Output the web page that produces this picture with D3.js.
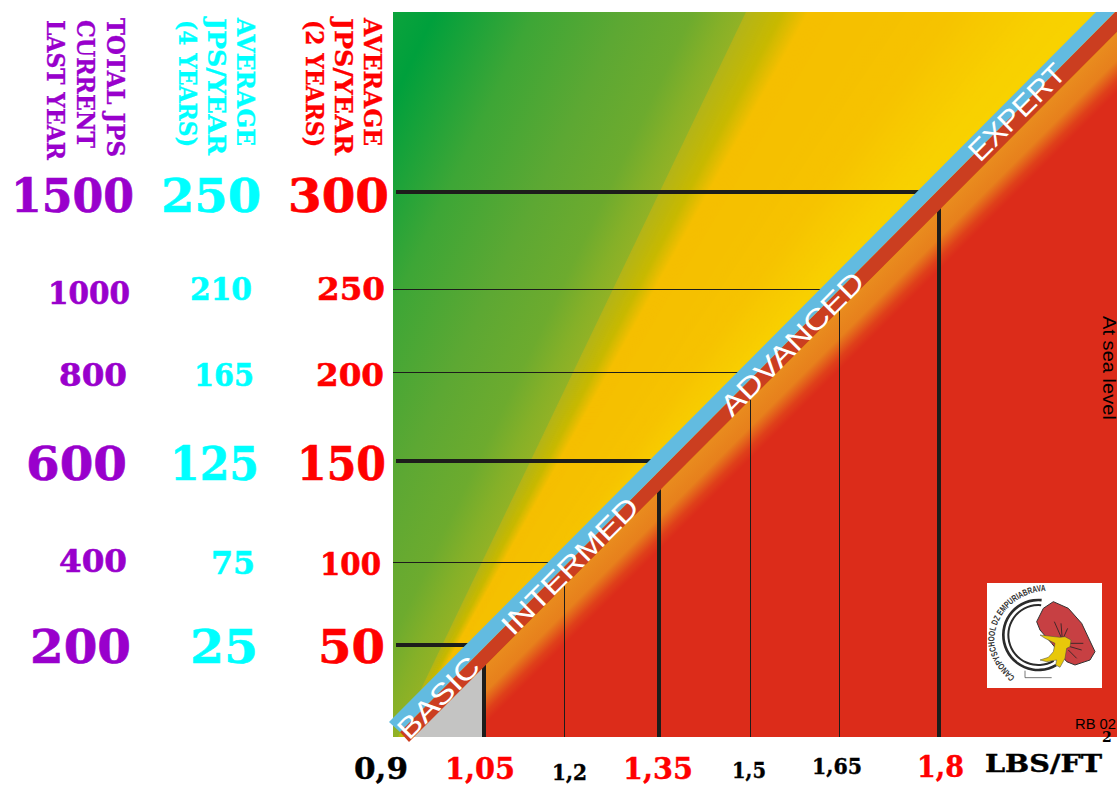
<!DOCTYPE html>
<html>
<head>
<meta charset="utf-8">
<script src="https://cdnjs.cloudflare.com/ajax/libs/d3/7.8.5/d3.min.js"></script>
<style>
  html, body { margin: 0; padding: 0; background: #fff; }
  svg { display: block; }
</style>
</head>
<body>
<div id="chart"></div>
<script>
// values
const jumps2y = [50, 100, 150, 200, 250, 300];
const jumps4y = [25, 75, 125, 165, 210, 250];
const totalLastYear = [200, 400, 600, 800, 1000, 1500];
const majorJumps = [50, 150, 300];
const lbsTicks = [0.9, 1.05, 1.2, 1.35, 1.5, 1.65, 1.8];
const majorLbs = [1.05, 1.35, 1.8];
const levels = ["BASIC", "INTERMED", "ADVANCED", "EXPERT"];
const headerPurple = ["TOTAL JPS", "CURRENT", "LAST YEAR"];
const headerCyan = ["AVERAGE", "JPS/YEAR", "(4 YEARS)"];
const headerRed = ["AVERAGE", "JPS/YEAR", "(2 YEARS)"];

// yellow side of the background: angle in degrees from the horizontal
const fanAngles = [70, 64.35, 62.3, 60.9, 58, 54, 50, 46, 30];
const fanColors = ["#b2b41a", "#b2b41a", "#c8b900", "#f5bf00", "#f5c000", "#f6c300", "#f8d000", "#f8d500", "#f8d500"];
// green side: share of the way from the top left corner to the edge of the yellow
const greenStops = [0, 0.12, 0.4, 0.66, 0.85, 0.94, 1];
const greenColors = ["#0ca33c", "#00a03c", "#3da636", "#5da833", "#6dab2e", "#85b028", "#92b225"];
// below the band, orange into red
const redStops = [0, 0.45, 0.8, 1];
const redColors = ["#e98b1e", "#e7801c", "#df3f1a", "#dc2c1a"];

const width = 1117, height = 785;
const plot = { left: 393, right: 1117, top: 12, bottom: 737 };

// axes are not quite even in the original, so the scales are piecewise
const x = d3.scaleLinear().domain(lbsTicks).range([393, 484, 564, 659, 750, 839, 939]);
const y = d3.scaleLinear().domain([0, ...jumps2y]).range([737, 645, 562, 461, 372, 289, 192]);

const color = d3.scaleLinear().domain(fanAngles).range(fanColors).interpolate(d3.interpolateRgb);

// the diagonal band
const blueEdgeX = py => 1096 - (py - 12) * 707 / 710;
const brownEdgeY = px => 742 - (px - 409) * 710 / 708;

const svg = d3.select("#chart").append("svg")
  .attr("width", width)
  .attr("height", height)
  .style("font-family", "'DejaVu Serif', serif");

const defs = svg.append("defs");
defs.append("clipPath").attr("id", "plot-clip").append("rect")
  .attr("x", plot.left).attr("y", plot.top)
  .attr("width", plot.right - plot.left).attr("height", plot.bottom - plot.top);

function addGradient(id, from, to, stops, colors) {
  const grad = defs.append("linearGradient").attr("id", id)
    .attr("gradientUnits", "userSpaceOnUse")
    .attr("x1", from[0]).attr("y1", from[1]).attr("x2", to[0]).attr("y2", to[1]);
  stops.forEach((s, i) => grad.append("stop").attr("offset", s).attr("stop-color", colors[i]));
}
addGradient("orange-red", [414, 737], [443, 766], redStops, redColors);
addGradient("green", [393, 12], [680, 150], greenStops, greenColors);

// Fan behind the band, painted upwards so no seams show
const origin = [343, 851];
const fan = svg.append("g").attr("clip-path", "url(#plot-clip)");
fan.selectAll("path")
  .data(d3.range(30, 70, 0.1))
  .join("path")
  .attr("d", a => {
    const r = 1400, a0 = a * Math.PI / 180, a1 = 80 * Math.PI / 180;
    return `M${origin}L${origin[0] + r * Math.cos(a0)},${origin[1] - r * Math.sin(a0)}` +
      `L${origin[0] + r * Math.cos(a1)},${origin[1] - r * Math.sin(a1)}Z`;
  })
  .attr("fill", a => color(a));

svg.append("polygon")
  .attr("points", `${plot.left},${plot.top} 746,${plot.top} 398,${plot.bottom} ${plot.left},${plot.bottom}`)
  .attr("fill", "url(#green)");

// Below the band
const below = svg.append("g");
below.append("polygon")
  .attr("points", `414,737 1117,32 1117,737`)
  .attr("fill", "url(#orange-red)");
below.append("polygon")
  .attr("points", `405,737 ${x(1.05)},${brownEdgeY(x(1.05))} ${x(1.05)},737`)
  .attr("fill", "#c4c4c3");

// Grid lines
const ink = "#1d1d1b";
svg.append("g").selectAll("line")
  .data(jumps2y)
  .join("line")
  .attr("x1", d => majorJumps.includes(d) ? 396 : plot.left)
  .attr("x2", d => blueEdgeX(y(d)) + 3)
  .attr("y1", d => y(d))
  .attr("y2", d => y(d))
  .attr("stroke", ink)
  .attr("shape-rendering", "crispEdges")
  .attr("stroke-width", d => majorJumps.includes(d) ? 4 : 1);

svg.append("g").selectAll("line")
  .data(lbsTicks.slice(1))
  .join("line")
  .attr("x1", d => x(d))
  .attr("x2", d => x(d))
  .attr("y1", d => brownEdgeY(x(d)) - 3)
  .attr("y2", plot.bottom)
  .attr("stroke", ink)
  .attr("shape-rendering", "crispEdges")
  .attr("stroke-width", d => majorLbs.includes(d) ? 4 : 1);

// Band
svg.append("polygon").attr("points", "400,732 409,742 1117,32 1117,12 1115,12").attr("fill", "#cb3e20");
svg.append("polygon").attr("points", "389,722 400,732 1115,12 1096,12").attr("fill", "#62bbe0");

// level names along the band
const levelPlace = [
  { x: 409, y: 741, len: 103 },
  { x: 513, y: 637, len: 181 },
  { x: 732, y: 418, len: 190 },
  { x: 980, y: 163, len: 124 }
];
svg.append("g").selectAll("text")
  .data(levels)
  .join("text")
  .attr("transform", (d, i) => `translate(${levelPlace[i].x},${levelPlace[i].y}) rotate(-45)`)
  .attr("textLength", (d, i) => levelPlace[i].len)
  .attr("lengthAdjust", "spacingAndGlyphs")
  .style("font-family", "'Liberation Sans', sans-serif")
  .style("font-size", "29px")
  .attr("fill", "#fff")
  .text(d => d);

// Left columns of numbers
const columns = [
  { values: totalLastYear, fill: "#9900cc", right: [131, 127, 127, 127, 130, 134], w: [101, 68, 101, 68, 82, 123], dy: [1, -2, 2, 2, 3, 3] },
  { values: jumps4y, fill: "#00ffff", right: [258, 255, 259, 254, 252, 261], w: [68, 44, 89, 60, 62, 100], dy: [1, 0, 2, 2, -1, 3] },
  { values: jumps2y, fill: "#ff0000", right: [385, 381, 386, 384, 385, 389], w: [67, 61, 89, 68, 68, 101], dy: [1, 1, 2, 2, -1, 3] }
];
columns.forEach(col => {
  svg.append("g").selectAll("text")
    .data(col.values)
    .join("text")
    .attr("x", (d, i) => col.right[i] - col.w[i])
    .attr("y", (d, i) => y(jumps2y[i]) + col.dy[i] + (majorJumps.includes(jumps2y[i]) ? 17 : 12))
    .attr("textLength", (d, i) => col.w[i])
    .attr("lengthAdjust", "spacingAndGlyphs")
    .style("font-size", (d, i) => majorJumps.includes(jumps2y[i]) ? "46px" : "32px")
    .style("font-weight", "bold")
    .attr("fill", col.fill)
    .attr("stroke", col.fill)
    .attr("stroke-width", 0.6)
    .text(d => d);
});

// Rotated column headers
const headers = [
  { lines: headerPurple, fill: "#9900cc", px: [107, 77, 47], top: [18, 20, 20], len: [139, 128, 140] },
  { lines: headerCyan, fill: "#00ffff", px: [237, 208, 179], top: [18, 18, 20], len: [128, 137, 127] },
  { lines: headerRed, fill: "#ff0000", px: [364, 335, 306], top: [18, 18, 20], len: [128, 137, 127] }
];
headers.forEach(h => {
  svg.append("g").selectAll("text")
    .data(h.lines)
    .join("text")
    .attr("transform", (d, i) => `translate(${h.px[i]},${h.top[i]}) rotate(90)`)
    .attr("textLength", (d, i) => h.len[i])
    .attr("lengthAdjust", "spacingAndGlyphs")
    .style("font-size", "25px")
    .style("font-weight", "bold")
    .attr("fill", h.fill)
    .attr("stroke", h.fill)
    .attr("stroke-width", 0.3)
    .text(d => d);
});

// X labels
const lbsLabelLeft = [354, 445, 552, 623, 732, 812, 917];
const lbsLabelW = [54, 70, 35, 70, 34, 50, 47];
const lbsLabelBase = [779, 779, 780, 779, 778, 774, 777];
svg.append("g").selectAll("text")
  .data(lbsTicks)
  .join("text")
  .attr("x", (d, i) => lbsLabelLeft[i])
  .attr("y", (d, i) => lbsLabelBase[i])
  .attr("textLength", (d, i) => lbsLabelW[i])
  .attr("lengthAdjust", "spacingAndGlyphs")
  .style("font-size", d => (majorLbs.includes(d) || d === 0.9) ? "30px" : "22px")
  .style("font-weight", "bold")
  .attr("fill", d => majorLbs.includes(d) ? "#ff0000" : "#000")
  .attr("stroke", d => majorLbs.includes(d) ? "#ff0000" : "#000")
  .attr("stroke-width", 0.4)
  .text(d => String(d).replace(".", ","));

svg.append("text")
  .attr("x", 985).attr("y", 772)
  .attr("textLength", 117).attr("lengthAdjust", "spacingAndGlyphs")
  .style("font-size", "24px").style("font-weight", "bold")
  .attr("stroke", "#000").attr("stroke-width", 0.4)
  .text("LBS/FT");

// small notes
svg.append("text")
  .attr("transform", "translate(1103,316) rotate(90)")
  .attr("textLength", 104).attr("lengthAdjust", "spacingAndGlyphs")
  .style("font-family", "'Liberation Sans', sans-serif").style("font-size", "18px")
  .text("At sea level");
svg.append("text")
  .attr("x", 1075).attr("y", 729)
  .attr("textLength", 41).attr("lengthAdjust", "spacingAndGlyphs")
  .style("font-family", "'Liberation Sans', sans-serif").style("font-size", "15px")
  .text("RB 02");
svg.append("text")
  .attr("x", 1102).attr("y", 742)
  .style("font-size", "14px").style("font-weight", "bold")
  .text("2");

// Logo, traced in units of the 360x330 crop
const lx = d3.scaleLinear().domain([0, 360]).range([985, 1105]);
const ly = d3.scaleLinear().domain([0, 330]).range([580, 690]);
const logoLine = d3.line().x(d => lx(d[0])).y(d => ly(d[1]));
const canopy = [[155, 125], [175, 85], [205, 65], [250, 85], [290, 130], [330, 215], [315, 240], [270, 255], [245, 245], [200, 190], [165, 150]];
const pilot = [[165, 165], [225, 172], [240, 170], [258, 180], [255, 200], [245, 205], [240, 235], [225, 262], [212, 255], [215, 240], [185, 245], [165, 240], [190, 232], [205, 215], [210, 190], [180, 175]];
const riggingLines = [[[232, 180], [208, 125]], [[232, 180], [228, 130]], [[232, 180], [248, 145]], [[255, 190], [295, 190]], [[255, 200], [290, 210]], [[250, 210], [275, 235]]];
const logoTextPath = [[90, 292], [50, 245], [28, 185], [48, 110], [105, 55], [180, 33], [240, 48], [290, 100]];

const logo = svg.append("g");
logo.append("rect")
  .attr("x", 987).attr("y", 583).attr("width", 115).attr("height", 105)
  .attr("fill", "#fff");
const ringArc = d3.arc().startAngle(Math.PI * 0.03).endAngle(-Math.PI * 1.17);
[[105, 8], [90, 6]].forEach(r => {
  logo.append("path")
    .attr("transform", `translate(${lx(160)},${ly(165)})`)
    .attr("d", ringArc({ innerRadius: (r[0] - r[1] / 2) / 3, outerRadius: (r[0] + r[1] / 2) / 3 }))
    .attr("fill", "#2b2b2b");
});
logo.append("path")
  .attr("d", logoLine(canopy) + "Z")
  .attr("fill", "#c74043").attr("stroke", "#333").attr("stroke-width", 1);
logo.selectAll(".rig")
  .data(riggingLines)
  .join("path")
  .attr("class", "rig")
  .attr("d", logoLine)
  .attr("stroke", "#222").attr("fill", "none").attr("stroke-width", 0.8);
logo.append("path")
  .attr("d", logoLine(pilot) + "Z")
  .attr("fill", "#e8c80a").attr("stroke", "#444").attr("stroke-width", 0.5);
defs.append("path")
  .attr("id", "logo-text-path")
  .attr("d", d3.line().x(d => lx(d[0])).y(d => ly(d[1])).curve(d3.curveCatmullRom)(logoTextPath));
logo.append("text")
  .style("font-family", "'Liberation Sans', sans-serif")
  .style("font-size", "9px").style("font-weight", "bold")
  .attr("fill", "#333")
  .append("textPath")
  .attr("href", "#logo-text-path")
  .attr("textLength", 122).attr("lengthAdjust", "spacingAndGlyphs")
  .text("CANOPYSCHOOL DZ EMPURIABRAVA");
logo.append("path")
  .attr("d", logoLine([[120, 272], [120, 293], [200, 293]]))
  .attr("stroke", "#555").attr("fill", "none").attr("stroke-width", 0.8);
</script>
</body>
</html>
